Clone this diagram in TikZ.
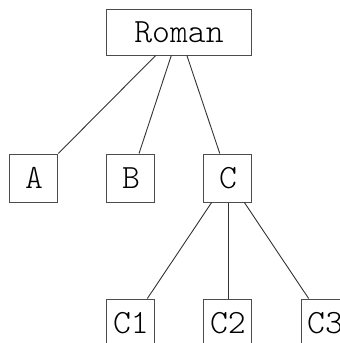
\documentclass[tikz,border=0pt]{standalone}
\usepackage{fontspec}
\setmonofont{Latin Modern Mono Light}
\usepackage{tikz}
\usetikzlibrary{positioning}

\begin{document}
\begin{tikzpicture}[
    node distance=98pt and 48pt,
    top/.style={rectangle, draw=black!70, line width=1pt, minimum width=145pt, minimum height=46pt, font=\ttfamily\fontsize{34}{40}\selectfont},
    leaf/.style={rectangle, draw=black!70, line width=1pt, minimum size=48pt, inner sep=0pt, font=\ttfamily\fontsize{34}{40}\selectfont},
    edge/.style={draw=black!80, line width=0.9pt}
]
    \useasboundingbox (-179pt,-311pt) rectangle (161pt,32pt);
    \clip (-179pt,-311pt) rectangle (161pt,32pt);

    \node [top] (roman) at (0,0) {Roman};
    \node [leaf, below=98pt of roman, xshift=-48pt] (b) {B};
    \node [leaf, left=of b] (a) {A};
    \node [leaf, right=of b] (c) {C};

    \node [leaf, below=96pt of c] (c2) {C2};
    \node [leaf, left=of c2] (c1) {C1};
    \node [leaf, right=of c2] (c3) {C3};

    \draw [edge] (roman) -- (a);
    \draw [edge] (roman) -- (b);
    \draw [edge] (roman) -- (c);
    \draw [edge] (c) -- (c1);
    \draw [edge] (c) -- (c2);
    \draw [edge] (c) -- (c3);
\end{tikzpicture}
\end{document}
